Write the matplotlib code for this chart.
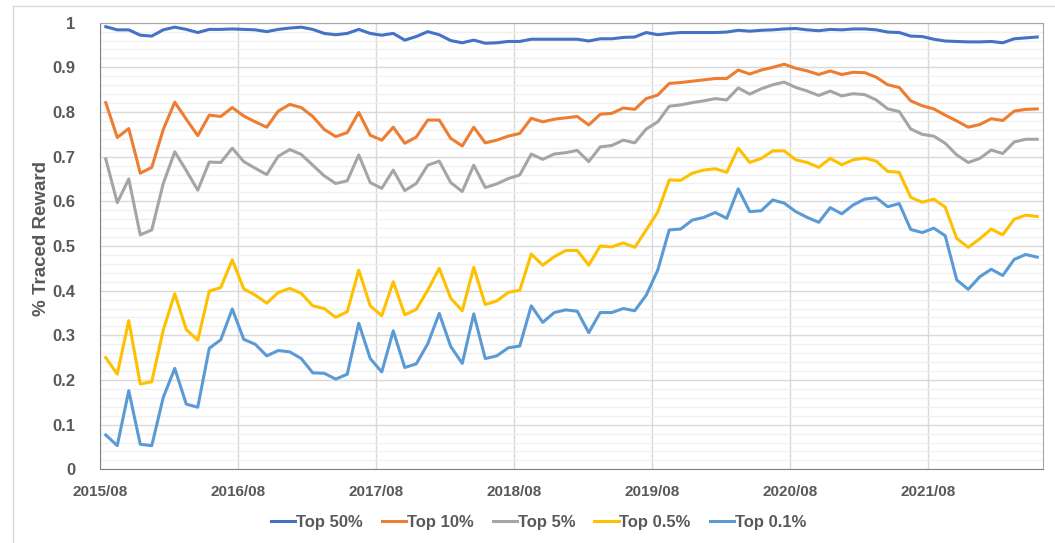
import matplotlib.pyplot as plt
import numpy as np

# monthly share of reward traced to the top holders, 2015/08 onwards
top50 = [0.991, 0.984, 0.984, 0.972, 0.970, 0.984, 0.990, 0.985, 0.978, 0.985,
         0.985, 0.986, 0.985, 0.984, 0.980, 0.985, 0.988, 0.990, 0.985, 0.976,
         0.973, 0.976, 0.985, 0.976, 0.972, 0.976, 0.961, 0.969, 0.980, 0.973,
         0.960, 0.955, 0.961, 0.954, 0.955, 0.958, 0.958, 0.963, 0.963, 0.963,
         0.963, 0.963, 0.959, 0.964, 0.964, 0.967, 0.968, 0.978, 0.973, 0.976,
         0.978, 0.978, 0.978, 0.978, 0.979, 0.983, 0.981, 0.983, 0.984, 0.986,
         0.987, 0.984, 0.982, 0.985, 0.984, 0.986, 0.986, 0.984, 0.979, 0.978,
         0.970, 0.969, 0.963, 0.959, 0.958, 0.957, 0.957, 0.958, 0.955, 0.964,
         0.966, 0.968]
top10 = [0.821, 0.743, 0.763, 0.663, 0.676, 0.761, 0.822, 0.784, 0.747, 0.793,
         0.790, 0.810, 0.791, 0.778, 0.766, 0.802, 0.817, 0.810, 0.790, 0.761,
         0.745, 0.754, 0.799, 0.748, 0.737, 0.766, 0.730, 0.744, 0.782, 0.782,
         0.741, 0.724, 0.766, 0.731, 0.737, 0.746, 0.752, 0.786, 0.778, 0.784,
         0.787, 0.790, 0.771, 0.795, 0.797, 0.809, 0.806, 0.830, 0.838, 0.864,
         0.866, 0.869, 0.872, 0.875, 0.875, 0.894, 0.885, 0.894, 0.900, 0.907,
         0.898, 0.892, 0.884, 0.892, 0.884, 0.889, 0.888, 0.878, 0.861, 0.855,
         0.825, 0.814, 0.807, 0.793, 0.780, 0.766, 0.772, 0.785, 0.781, 0.802,
         0.806, 0.807]
top5 = [0.695, 0.597, 0.650, 0.525, 0.536, 0.640, 0.711, 0.669, 0.625, 0.688,
        0.687, 0.719, 0.689, 0.674, 0.660, 0.701, 0.716, 0.705, 0.681, 0.657,
        0.640, 0.646, 0.704, 0.642, 0.629, 0.670, 0.624, 0.640, 0.681, 0.690,
        0.642, 0.622, 0.681, 0.631, 0.639, 0.651, 0.659, 0.706, 0.694, 0.706,
        0.709, 0.714, 0.689, 0.722, 0.725, 0.737, 0.731, 0.762, 0.778, 0.813,
        0.816, 0.821, 0.825, 0.830, 0.827, 0.854, 0.840, 0.852, 0.861, 0.867,
        0.855, 0.847, 0.837, 0.847, 0.836, 0.841, 0.839, 0.827, 0.807, 0.801,
        0.762, 0.750, 0.746, 0.730, 0.704, 0.687, 0.696, 0.715, 0.707, 0.733,
        0.739, 0.739]
top05 = [0.250, 0.213, 0.333, 0.191, 0.196, 0.312, 0.393, 0.313, 0.289, 0.399,
         0.407, 0.469, 0.404, 0.390, 0.372, 0.396, 0.405, 0.394, 0.366, 0.360,
         0.340, 0.353, 0.446, 0.366, 0.344, 0.420, 0.346, 0.358, 0.401, 0.450,
         0.383, 0.355, 0.452, 0.369, 0.377, 0.396, 0.401, 0.482, 0.457, 0.476,
         0.490, 0.490, 0.457, 0.500, 0.498, 0.507, 0.497, 0.536, 0.576, 0.648,
         0.647, 0.663, 0.670, 0.673, 0.665, 0.719, 0.687, 0.696, 0.713, 0.713,
         0.693, 0.687, 0.676, 0.696, 0.682, 0.693, 0.697, 0.690, 0.667, 0.665,
         0.609, 0.598, 0.605, 0.587, 0.517, 0.497, 0.516, 0.538, 0.525, 0.560,
         0.569, 0.566]
top01 = [0.077, 0.053, 0.176, 0.056, 0.053, 0.161, 0.226, 0.146, 0.139, 0.271,
         0.290, 0.359, 0.291, 0.280, 0.254, 0.266, 0.263, 0.248, 0.216, 0.215,
         0.202, 0.213, 0.327, 0.248, 0.218, 0.310, 0.228, 0.236, 0.281, 0.349,
         0.275, 0.237, 0.348, 0.248, 0.254, 0.272, 0.276, 0.366, 0.329, 0.351,
         0.357, 0.354, 0.306, 0.351, 0.351, 0.360, 0.355, 0.390, 0.446, 0.536,
         0.538, 0.558, 0.564, 0.575, 0.562, 0.628, 0.577, 0.579, 0.603, 0.596,
         0.577, 0.564, 0.553, 0.586, 0.572, 0.592, 0.605, 0.608, 0.588, 0.595,
         0.537, 0.530, 0.540, 0.523, 0.424, 0.403, 0.431, 0.448, 0.434, 0.470,
         0.481, 0.475]

series = [("Top 50%", top50, "#4472C4"),
          ("Top 10%", top10, "#ED7D31"),
          ("Top 5%", top5, "#A5A5A5"),
          ("Top 0.5%", top05, "#FFC000"),
          ("Top 0.1%", top01, "#5B9BD5")]

tick_labels = ["2015/08", "2016/08", "2017/08", "2018/08", "2019/08", "2020/08", "2021/08"]

plt.rcParams['font.family'] = ['Liberation Sans', 'DejaVu Sans']
txt = "#595959"

fig = plt.figure(figsize=(10.55, 5.43), dpi=100)
ax = fig.add_axes([0.0948, 0.1357, 0.8938, 0.8225])

x = np.arange(len(top50))
for name, vals, col in series:
    ax.plot(x, vals, color=col, lw=2.2, label=name, solid_joinstyle='round')

ax.set_xlim(-0.5, len(top50) - 0.5)
ax.set_ylim(0, 1)
ax.set_xticks(np.arange(len(tick_labels)) * 12 - 0.5)
ax.set_xticklabels(tick_labels)
ax.set_yticks(np.arange(0, 1.01, 0.1))
ax.set_yticklabels(["0"] + ["%.1f" % v for v in np.arange(0.1, 0.95, 0.1)] + ["1"])
ax.set_yticks(np.arange(0, 1.001, 0.02), minor=True)

ax.grid(which='major', color='#D9D9D9', lw=1)
ax.grid(which='minor', axis='y', color='#F0F0F0', lw=1)
ax.set_axisbelow(True)
ax.tick_params(which='both', length=0, labelcolor=txt)
ax.tick_params(axis='x', pad=11, labelsize=11)
ax.tick_params(axis='y', pad=18, labelsize=12)
for lab in ax.get_xticklabels() + ax.get_yticklabels():
    lab.set_fontweight('bold')

for s in ['left', 'bottom']:
    ax.spines[s].set_color('#808080')
for s in ['top', 'right']:
    ax.spines[s].set_color('#A6A6A6')

ax.set_ylabel("% Traced Reward", fontsize=13.5, fontweight='bold', color=txt)
ax.yaxis.set_label_coords(-0.053, 0.516)

leg = ax.legend(loc='upper center', bbox_to_anchor=(0.465, -0.068), ncol=5, frameon=False,
                handlelength=1.45, handletextpad=0.05, columnspacing=1.15,
                prop={'size': 12, 'weight': 'bold'})
for t in leg.get_texts():
    t.set_color(txt)

# chart area border
fig.add_artist(plt.Line2D([0.0125, 0.0125], [0, 0.989], color='#D9D9D9', lw=1))
fig.add_artist(plt.Line2D([0.0125, 1], [0.989, 0.989], color='#D9D9D9', lw=1))

fig.savefig("out.png", dpi=100)
